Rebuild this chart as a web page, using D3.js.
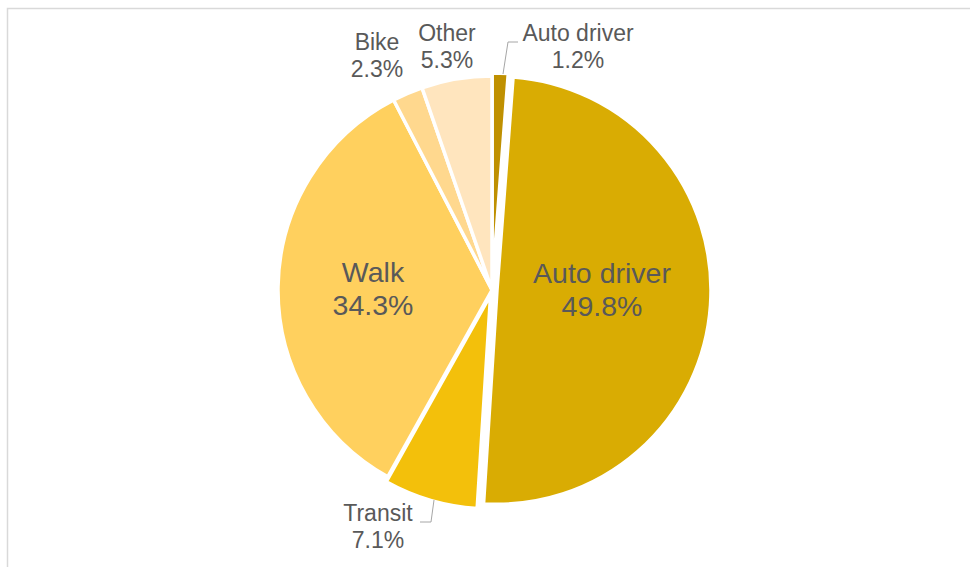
<!DOCTYPE html>
<html>
<head>
<meta charset="utf-8">
<script src="https://cdn.jsdelivr.net/npm/d3@7"></script>
<style>
  html, body { margin: 0; padding: 0; background: #fff; }
  svg { display: block; font-family: "Liberation Sans", Arial, sans-serif; }
</style>
</head>
<body>
<div id="chart"></div>
<script>
// Mode share, clockwise from 12 o'clock
const categories = ["Auto driver", "Auto driver", "Transit", "Walk", "Bike", "Other"];
const shares = [1.2, 49.8, 7.1, 34.3, 2.3, 5.3];
const sliceColors = ["#BF9000", "#D9AC03", "#F3C00B", "#FFD05E", "#FFD88E", "#FFE5BE"];

const width = 970;
const height = 567;
const cx = 492;
const cy = 290;
const radius = 214;

// how far each slice is pulled out from the centre
const explode = [3, 5, 5, 0, 0, 0];

// label layout: inside labels use font 28, outside ones 23
const labelLayout = [
  {x: 578, y: 41, size: 23, leader: [[503, 74], [508, 42], [518, 42]]},
  {x: 602, y: 283, size: 28.5},
  {x: 378, y: 521, size: 23, leader: [[434, 500], [431, 522], [420, 522]]},
  {x: 373, y: 282, size: 28.5},
  {x: 377, y: 50, size: 23},
  {x: 447, y: 41, size: 23}
];

const svg = d3.select("#chart").append("svg")
  .attr("width", width)
  .attr("height", height);

// chart area border
svg.append("rect")
  .attr("x", 7.5)
  .attr("y", 8.5)
  .attr("width", width)
  .attr("height", height)
  .attr("fill", "none")
  .attr("stroke", "#d9d9d9")
  .attr("stroke-width", 1.5);

const pie = d3.pie()
  .sort(null)
  .value(d => d);

const arcs = pie(shares);

const arc = d3.arc()
  .innerRadius(0)
  .outerRadius(radius);

const g = svg.append("g")
  .attr("transform", `translate(${cx},${cy})`);

g.selectAll("path")
  .data(arcs)
  .join("path")
  .attr("transform", (d, i) => {
    const mid = (d.startAngle + d.endAngle) / 2;
    return `translate(${Math.sin(mid) * explode[i]},${-Math.cos(mid) * explode[i]})`;
  })
  .attr("d", arc)
  .attr("fill", (d, i) => sliceColors[i])
  .attr("stroke", "#fff")
  .attr("stroke-width", 3.5)
  .attr("stroke-linejoin", "miter");

// leader lines
const line = d3.line();
svg.append("g")
  .selectAll("path")
  .data(labelLayout.filter(d => d.leader))
  .join("path")
  .attr("d", d => line(d.leader))
  .attr("fill", "none")
  .attr("stroke", "#a6a6a6")
  .attr("stroke-width", 1);

// data labels
const labels = svg.append("g")
  .attr("fill", "#595959")
  .attr("text-anchor", "middle")
  .selectAll("text")
  .data(arcs)
  .join("text")
  .attr("font-size", (d, i) => labelLayout[i].size);

labels.append("tspan")
  .attr("x", (d, i) => labelLayout[i].x)
  .attr("y", (d, i) => labelLayout[i].y)
  .text((d, i) => categories[i]);

labels.append("tspan")
  .attr("x", (d, i) => labelLayout[i].x)
  .attr("dy", (d, i) => labelLayout[i].size * 1.16)
  .text(d => d.data.toFixed(1) + "%");
</script>
</body>
</html>
